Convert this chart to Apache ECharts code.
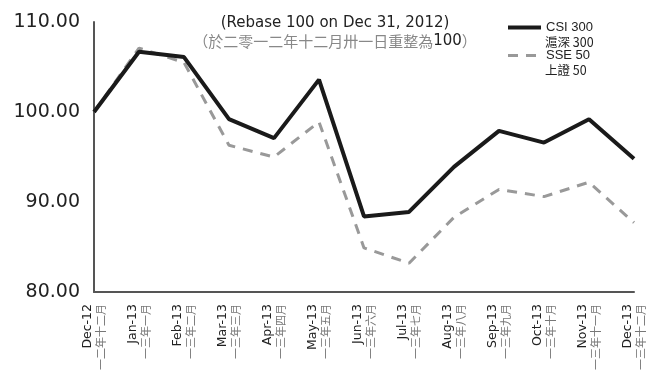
<!DOCTYPE html>
<html><head><meta charset="utf-8">
<script src="https://cdn.jsdelivr.net/npm/echarts@6/dist/echarts.min.js"></script>
<style>html,body{margin:0;padding:0;background:#fff}#c{width:651px;height:376px}</style>
</head><body><div id="c"></div>
<script>
const categories = ['Dec-12','Jan-13','Feb-13','Mar-13','Apr-13','May-13','Jun-13','Jul-13','Aug-13','Sep-13','Oct-13','Nov-13','Dec-13'];
const categoriesZh = ['一二年十二月','一三年一月','一三年二月','一三年三月','一三年四月','一三年五月','一三年六月','一三年七月','一三年八月','一三年九月','一三年十月','一三年十一月','一三年十二月'];
const csi300 = [100.0, 106.7, 106.1, 99.2, 97.1, 103.6, 88.4, 88.9, 93.9, 97.9, 96.6, 99.2, 94.8];
const sse50 = [100.0, 107.1, 105.5, 96.3, 95.0, 98.9, 84.9, 83.2, 88.3, 91.4, 90.6, 92.2, 87.7];
const yTicks = [80, 90, 100, 110];
const seriesNames = ['CSI 300', 'SSE 50'];
const seriesNamesZh = ['滬深 300', '上證 50'];

const chart = echarts.init(document.getElementById('c'));
const labels = categories.map((c, i) => c + '\n' + categoriesZh[i]);
chart.setOption({
  animation: false,
  title: {
    text: '(Rebase 100 on Dec 31, 2012)',
    subtext: '{a|（於二零一二年十二月卅一日重整為}{b|100}{a|）}',
    left: 330, textAlign: 'center', top: 11, itemGap: 3,
    textStyle: { fontFamily: 'DejaVu Sans', fontSize: 15, fontWeight: 'normal', color: '#222' },
    subtextStyle: { rich: {
      a: { fontFamily: 'Noto Sans CJK TC', fontSize: 15, color: '#888' },
      b: { fontFamily: 'DejaVu Sans', fontSize: 15, color: '#222' }
    } }
  },
  legend: {
    orient: 'vertical', left: 506, top: 21, padding: 0, itemWidth: 33, itemHeight: 14, itemGap: 15,
    itemStyle: { opacity: 0 },
    textStyle: { fontFamily: 'Liberation Sans', fontSize: 13, color: '#222' },
    data: [
      { name: seriesNames[0], lineStyle: { width: 4, color: '#1a1a1a' } },
      { name: seriesNames[1], lineStyle: { width: 3, color: '#999', type: [10, 8] } }
    ]
  },
  graphic: seriesNamesZh.map((t, i) => ({
    type: 'text', left: 545, top: 35.5 + i * 28,
    style: { text: t, font: '12.5px "Noto Sans CJK TC"', fill: '#222' }
  })),
  grid: { left: 94, right: 17, top: 22, bottom: 84, containLabel: false },
  xAxis: {
    type: 'category', data: labels, boundaryGap: false,
    axisLine: { lineStyle: { color: '#555', width: 2 } },
    axisTick: { show: false },
    axisLabel: { rotate: 90, margin: 12, interval: 0,
      formatter: function (v) { const p = v.split('\n'); return '{a|' + p[0] + '}\n{b|' + p[1] + '}'; },
      rich: { a: { fontFamily: 'DejaVu Sans', fontSize: 12.5, color: '#222', lineHeight: 13 },
              b: { fontFamily: 'Noto Sans CJK TC', fontSize: 11, color: '#777', lineHeight: 13 } } }
  },
  yAxis: {
    type: 'value', min: yTicks[0], max: yTicks[yTicks.length - 1], interval: 10,
    axisLine: { show: true, lineStyle: { color: '#555', width: 2 } },
    axisTick: { show: false }, splitLine: { show: false },
    axisLabel: { margin: 14, fontFamily: 'DejaVu Sans', fontSize: 19, color: '#222',
      formatter: v => v.toFixed(2) }
  },
  series: [
    { name: seriesNames[0], type: 'line', data: csi300, symbol: 'none', z: 3,
      lineStyle: { color: '#1a1a1a', width: 4 }, itemStyle: { color: '#1a1a1a' } },
    { name: seriesNames[1], type: 'line', data: sse50, symbol: 'none', z: 2,
      lineStyle: { color: '#999', width: 3, type: [10, 8] }, itemStyle: { color: '#999' } }
  ]
});
</script></body></html>
